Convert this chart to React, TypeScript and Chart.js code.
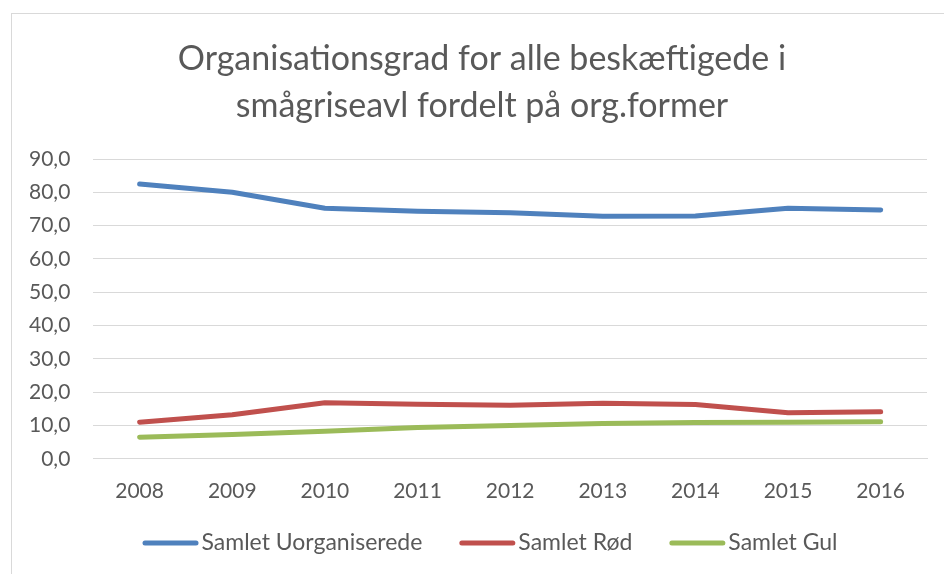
import React, { useEffect, useRef } from "react";
import { Chart, registerables } from "chart.js";

Chart.register(...registerables);

const years = ["2008", "2009", "2010", "2011", "2012", "2013", "2014", "2015", "2016"];
const uorganiserede = [82.5, 80.0, 75.2, 74.3, 73.9, 72.8, 72.9, 75.2, 74.7];
const roed = [11.0, 13.2, 16.8, 16.4, 16.1, 16.7, 16.3, 13.8, 14.1];
const gul = [6.5, 7.3, 8.3, 9.4, 10.0, 10.6, 10.9, 11.0, 11.1];
const seriesNames = ["Samlet Uorganiserede", "Samlet Rød", "Samlet Gul"];
const titleLines = ["Organisationsgrad for alle beskæftigede i", "smågriseavl fordelt på org.former"];

const FONT = "Lato, 'Open Sans', sans-serif";
const TEXT = "#595959";

const titleLegendPlugin = {
  id: "titleLegend",
  afterDraw(chart: any) {
    const ctx = chart.ctx as CanvasRenderingContext2D;
    ctx.save();
    // title
    ctx.font = `34px ${FONT}`;
    ctx.fillStyle = TEXT;
    ctx.textAlign = "center";
    ctx.textBaseline = "alphabetic";
    titleLines.forEach((line, i) => ctx.fillText(line, 482, 70 + i * 47));
    // legend
    ctx.font = `23px ${FONT}`;
    const items = chart.data.datasets.map((ds: any) => ({
      text: ds.label as string,
      color: ds.borderColor as string,
      w: ctx.measureText(ds.label).width,
    }));
    const boxW = 56;
    const gapText = 3;
    const gapItem = 37;
    const total =
      items.reduce((s: number, it: any) => s + boxW + gapText + it.w, 0) + gapItem * (items.length - 1);
    let x = 490 - total / 2;
    const y = 543;
    ctx.textBaseline = "middle";
    ctx.textAlign = "left";
    for (const it of items) {
      ctx.strokeStyle = it.color;
      ctx.lineWidth = 5;
      ctx.lineCap = "round";
      ctx.beginPath();
      ctx.moveTo(x + 2.5, y);
      ctx.lineTo(x + boxW - 2.5, y);
      ctx.stroke();
      ctx.fillStyle = TEXT;
      ctx.fillText(it.text, x + boxW + gapText, y);
      x += boxW + gapText + it.w + gapItem;
    }
    ctx.restore();
  },
};

export default function App() {
  const ref = useRef<HTMLCanvasElement | null>(null);
  useEffect(() => {
    if (!ref.current) return;
    const colors = ["#4f81bd", "#c0504d", "#9bbb59"];
    const data = [uorganiserede, roed, gul];
    const chart = new Chart(ref.current, {
      type: "line",
      data: {
        labels: years,
        datasets: seriesNames.map((name, i) => ({
          label: name,
          data: data[i],
          borderColor: colors[i],
          backgroundColor: colors[i],
          borderWidth: 5,
          borderCapStyle: "round",
          borderJoinStyle: "round",
          pointRadius: 0,
          tension: 0,
          fill: false,
        })),
      },
      plugins: [titleLegendPlugin],
      options: {
        animation: false,
        responsive: false,
        maintainAspectRatio: false,
        layout: { padding: { left: 6, right: 17, top: 159, bottom: 50 } },
        plugins: {
          title: { display: false },
          legend: { display: false },
          tooltip: { enabled: false },
        },
        scales: {
          x: {
            offset: true,
            grid: { display: false, drawTicks: false },
            border: { display: true, color: "#d9d9d9", width: 1 },
            ticks: { color: TEXT, font: { family: FONT, size: 21 }, padding: 20, maxRotation: 0 },
          },
          y: {
            min: 0,
            max: 90,
            grid: { color: "#d9d9d9", lineWidth: 1, drawTicks: false },
            border: { display: false },
            ticks: {
              stepSize: 10,
              color: TEXT,
              font: { family: FONT, size: 21 },
              padding: 23,
              callback: (v: any) => Number(v).toFixed(1).replace(".", ","),
            },
          },
        },
      },
    });
    return () => chart.destroy();
  }, []);
  return (
    <div style={{ position: "absolute", left: 0, top: 0, width: 944, height: 574, overflow: "hidden", background: "#fff" }}>
      <div
        style={{
          position: "absolute",
          left: 11,
          top: 13,
          width: 960,
          height: 600,
          border: "1px solid #d9d9d9",
          boxSizing: "border-box",
        }}
      />
      <canvas ref={ref} width={944} height={574} style={{ position: "absolute", left: 0, top: 0, width: 944, height: 574 }} />
    </div>
  );
}
